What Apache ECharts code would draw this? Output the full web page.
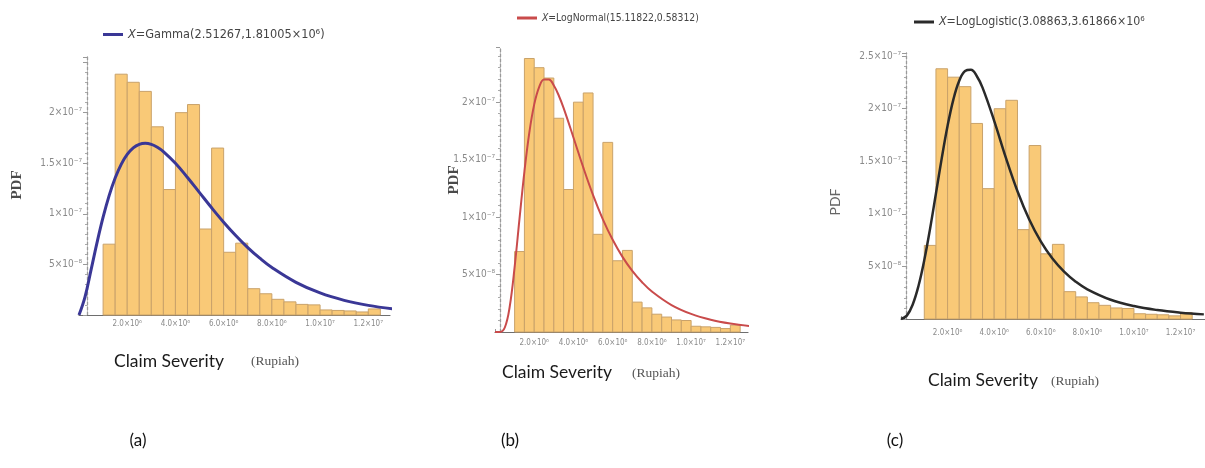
<!DOCTYPE html>
<html>
<head>
<meta charset="utf-8">
<title>Claim Severity - fitted distributions</title>
<script src="https://cdn.jsdelivr.net/npm/echarts@6/dist/echarts.min.js"></script>
<style>
  html, body { margin: 0; padding: 0; background: #fff; }
  #chart { width: 1205px; height: 468px; }
</style>
</head>
<body>
<div id="chart"></div>
<script>
// histogram of claim severity (same data in all three panels)
var binEdges = [1.0e6, 1.5e6, 2.0e6, 2.5e6, 3.0e6, 3.5e6, 4.0e6, 4.5e6, 5.0e6, 5.5e6, 6.0e6, 6.5e6,
                7.0e6, 7.5e6, 8.0e6, 8.5e6, 9.0e6, 9.5e6, 10.0e6, 10.5e6, 11.0e6, 11.5e6, 12.0e6, 12.5e6];
var histDensity = [7.0e-8, 2.38e-7, 2.30e-7, 2.21e-7, 1.86e-7, 1.24e-7, 2.00e-7, 2.08e-7, 8.5e-8, 1.65e-7,
                   6.2e-8, 7.1e-8, 2.6e-8, 2.1e-8, 1.55e-8, 1.3e-8, 1.05e-8, 1.0e-8, 5.0e-9, 4.5e-9,
                   4.0e-9, 3.0e-9, 6.0e-9];

// fitted pdf curves
var curveX = [0, 0.25e6, 0.5e6, 0.75e6, 1.0e6, 1.25e6, 1.5e6, 1.75e6, 2.0e6, 2.25e6, 2.5e6, 2.75e6,
              3.0e6, 3.25e6, 3.5e6, 4.0e6, 4.5e6, 5.0e6, 5.5e6, 6.0e6, 6.5e6, 7.0e6, 7.5e6, 8.0e6,
              9.0e6, 10.0e6, 11.0e6, 12.0e6, 13.0e6];
var gammaPdf = [0, 1.796e-8, 4.464e-8, 7.179e-8, 9.663e-8, 1.1795e-7, 1.3535e-7, 1.4886e-7, 1.5869e-7,
                1.6517e-7, 1.6871e-7, 1.6972e-7, 1.6863e-7, 1.6579e-7, 1.6153e-7, 1.4997e-7, 1.3595e-7,
                1.2096e-7, 1.0600e-7, 9.173e-8, 7.855e-8, 6.665e-8, 5.613e-8, 4.695e-8, 3.230e-8,
                2.180e-8, 1.449e-8, 9.51e-9, 6.18e-9];
var logNormalPdf = [0, 7e-11, 3.91e-9, 2.212e-8, 5.641e-8, 9.861e-8, 1.3963e-7, 1.7358e-7, 1.9808e-7,
                    2.1307e-7, 2.1971e-7, 2.1963e-7, 2.1450e-7, 2.0580e-7, 1.9476e-7, 1.6929e-7, 1.4323e-7,
                    1.1915e-7, 9.807e-8, 8.021e-8, 6.538e-8, 5.319e-8, 4.327e-8, 3.522e-8, 2.344e-8,
                    1.573e-8, 1.066e-8, 7.30e-9, 5.05e-9];
var logLogisticPdf = [0, 3.21e-9, 1.361e-8, 3.140e-8, 5.604e-8, 8.611e-8, 1.1940e-7, 1.5301e-7, 1.8379e-7,
                      2.0894e-7, 2.2659e-7, 2.3581e-7, 2.3697e-7, 2.3117e-7, 2.2004e-7, 1.8849e-7, 1.5352e-7,
                      1.2154e-7, 9.489e-8, 7.378e-8, 5.747e-8, 4.500e-8, 3.550e-8, 2.822e-8, 1.831e-8,
                      1.229e-8, 8.50e-9, 6.05e-9, 4.40e-9];

// tick labels
var xTickValues = [2e6, 4e6, 6e6, 8e6, 1e7, 1.2e7];
var xTickLabels = ['2.0×10⁶', '4.0×10⁶', '6.0×10⁶', '8.0×10⁶', '1.0×10⁷', '1.2×10⁷'];
var yTickValues = [5e-8, 1e-7, 1.5e-7, 2e-7, 2.5e-7];
var yTickLabels = ['5×10⁻⁸', '1×10⁻⁷', '1.5×10⁻⁷', '2×10⁻⁷', '2.5×10⁻⁷'];

var legendNames = ['X=Gamma(2.51267,1.81005×10⁶)', 'X=LogNormal(15.11822,0.58312)', 'X=LogLogistic(3.08863,3.61866×10⁶'];
var curveColors = ['#3a3796', '#c94b4b', '#2a2a2a'];
var curveWidths = [3, 2, 2.5];
var curves = [gammaPdf, logNormalPdf, logLogisticPdf];

// panel layout: plot rect, axis extents
var panels = [
    {left: 79, top: 57, width: 311, height: 258, xMax: 12.9e6, yMax: 2.55e-7, yOffset: -8, yLabels: 4, xMargin: 5,
     legend: {left: 103, top: 28, size: 12.6}},
    {left: 495, top: 47, width: 253, height: 285, xMax: 12.9e6, yMax: 2.48e-7, yOffset: -5, yLabels: 4, xMargin: 7,
     legend: {left: 517, top: 13, size: 10.3}},
    {left: 901, top: 53, width: 304, height: 266, xMax: 13.05e6, yMax: 2.53e-7, yOffset: -5, yLabels: 5, xMargin: 10,
     legend: {left: 914, top: 16, size: 12.3}}
];

var narrow = '"Liberation Sans Narrow", "DejaVu Sans Condensed", "Liberation Sans", sans-serif';

function lookup(values, labels, v, count) {
    for (var i = 0; i < count; i++) {
        if (Math.abs(values[i] - v) < values[i] * 1e-6) return labels[i];
    }
    return '';
}

var histData = [];
for (var i = 0; i < histDensity.length; i++) {
    histData.push([binEdges[i], binEdges[i + 1], histDensity[i]]);
}

var grids = [], xAxes = [], yAxes = [], series = [], legends = [];
panels.forEach(function (p, k) {
    grids.push({left: p.left, top: p.top, width: p.width, height: p.height});
    xAxes.push({
        type: 'value', gridIndex: k, min: 0, max: p.xMax, interval: 2e6,
        splitLine: {show: false},
        axisLine: {lineStyle: {color: '#6e6e6e', width: 1.2}},
        axisTick: {show: true, inside: true, length: 3, lineStyle: {color: '#999'}},
        axisLabel: {
            margin: p.xMargin, fontSize: 8, color: '#8a8a8a', fontFamily: narrow,
            showMaxLabel: false,
            formatter: function (v) { return lookup(xTickValues, xTickLabels, v, 6); }
        }
    });
    yAxes.push({
        type: 'value', gridIndex: k, min: 0, max: p.yMax, interval: 5e-8, offset: p.yOffset,
        splitLine: {show: false},
        axisLine: {show: true, lineStyle: {color: '#9a9a9a', width: 1.3, type: [3, 2]}},
        axisTick: {show: true, length: 4, lineStyle: {color: '#999'}},
        minorTick: {show: true, splitNumber: 5, length: 2, lineStyle: {color: '#aaa'}},
        axisLabel: {
            margin: 5, fontSize: 10, color: '#8a8a8a', fontFamily: narrow,
            showMaxLabel: false,
            formatter: function (v) { return lookup(yTickValues, yTickLabels, v, p.yLabels); }
        }
    });
    series.push({
        type: 'custom', xAxisIndex: k, yAxisIndex: k, silent: true,
        data: histData,
        encode: {x: [0, 1], y: 2},
        renderItem: function (params, api) {
            var a = api.coord([api.value(0), api.value(2)]);
            var b = api.coord([api.value(1), 0]);
            return {
                type: 'rect',
                shape: {x: a[0], y: a[1], width: b[0] - a[0], height: b[1] - a[1]},
                style: {fill: '#f9c977', stroke: '#c9a26a', lineWidth: 1}
            };
        }
    });
    var pts = curveX.map(function (x, j) { return [x, curves[k][j]]; });
    series.push({
        name: legendNames[k], type: 'line', xAxisIndex: k, yAxisIndex: k,
        data: pts, smooth: 0.4, showSymbol: false, clip: true,
        itemStyle: {color: curveColors[k]},
        lineStyle: {color: curveColors[k], width: curveWidths[k]}
    });
    legends.push({
        left: p.legend.left, top: p.legend.top, selectedMode: false, padding: 0,
        itemWidth: 20, itemHeight: 3,
        data: [{name: legendNames[k], icon: 'rect'}],
        formatter: function (name) {
            return '{i|X}{t|' + name.slice(1) + '}';
        },
        textStyle: {
            color: '#444', fontFamily: narrow, fontSize: p.legend.size,
            rich: {
                i: {fontStyle: 'italic', color: '#444', fontFamily: narrow, fontSize: p.legend.size},
                t: {color: '#444', fontFamily: narrow, fontSize: p.legend.size}
            }
        }
    });
});

// axis titles and captions
var serif = '"Liberation Serif", "DejaVu Serif", serif';
var calib = 'Lato, "Open Sans", sans-serif';
function txt(x, y, s, font, color, extra) {
    var o = {type: 'text', x: x, y: y, silent: true,
             style: {text: s, font: font, fill: color, align: 'center', verticalAlign: 'middle'}};
    if (extra) o.rotation = extra;
    return o;
}
var graphics = [
    txt(17, 185, 'PDF', 'bold 15px ' + serif, '#4a4a4a', Math.PI / 2),
    txt(454, 180, 'PDF', 'bold 15px ' + serif, '#4a4a4a', Math.PI / 2),
    txt(835, 202, 'PDF', '14px ' + calib, '#666', Math.PI / 2),
    txt(169, 361, 'Claim Severity', '17.5px ' + calib, '#1a1a1a'),
    txt(275, 361, '(Rupiah)', '13.5px ' + serif, '#555'),
    txt(557, 372, 'Claim Severity', '17.5px ' + calib, '#1a1a1a'),
    txt(656, 373, '(Rupiah)', '13.5px ' + serif, '#555'),
    txt(983, 380, 'Claim Severity', '17.5px ' + calib, '#1a1a1a'),
    txt(1075, 381, '(Rupiah)', '13.5px ' + serif, '#555'),
    txt(138, 441, '(a)', '17px ' + calib, '#111'),
    txt(510, 441, '(b)', '17px ' + calib, '#111'),
    txt(895, 441, '(c)', '17px ' + calib, '#111')
];

var myChart = echarts.init(document.getElementById('chart'));
myChart.setOption({
    animation: false,
    backgroundColor: '#fff',
    grid: grids,
    xAxis: xAxes,
    yAxis: yAxes,
    legend: legends,
    series: series,
    graphic: graphics
});
</script>
</body>
</html>
